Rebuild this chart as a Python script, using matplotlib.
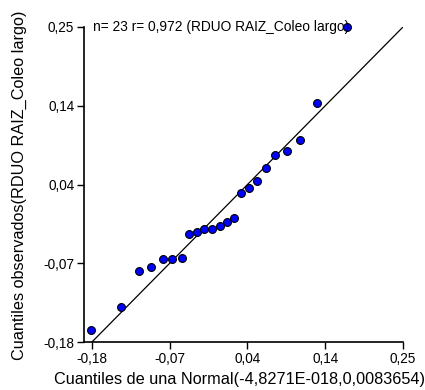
import matplotlib
matplotlib.use("Agg")
import matplotlib.pyplot as plt

plt.rcParams['font.family'] = ['Liberation Sans', 'DejaVu Sans']

# Normal quantiles (x) vs observed residual quantiles (y)
normal_q = [-0.182, -0.1395, -0.1154, -0.098, -0.0814, -0.069, -0.056,
            -0.0455, -0.0344, -0.0251, -0.014, -0.0034, 0.0063, 0.0168,
            0.0265, 0.0367, 0.0478, 0.0602, 0.0731, 0.0893, 0.1077,
            0.1316, 0.173]
observed_q = [-0.163, -0.1326, -0.0827, -0.0772, -0.0667, -0.0667, -0.0653,
              -0.0322, -0.0298, -0.0253, -0.0253, -0.0221, -0.0162, -0.0107,
              0.0238, 0.0306, 0.0398, 0.0575, 0.0757, 0.0811, 0.0953,
              0.1458, 0.2504]
tick_values = [-0.18, -0.0725, 0.035, 0.1425, 0.25]
tick_labels = ["-0,18", "-0,07", "0,04", "0,14", "0,25"]
ref_line = [-0.18, 0.25]
annotation = "n= 23 r= 0,972 (RDUO RAIZ_Coleo largo)"

fig = plt.figure(figsize=(4.25, 3.9), dpi=100)
ax = fig.add_axes([84 / 425, 48 / 390, 319 / 425, 315 / 390])

ax.plot(ref_line, ref_line, color='black', lw=0.9, zorder=2)
ax.scatter(normal_q, observed_q, s=32, c='#0000FF', edgecolors='black',
           linewidths=0.8, zorder=3, clip_on=False)

ax.set_xlim(-0.191, 0.25)
ax.set_ylim(-0.18, 0.25)
ax.set_xticks(tick_values)
ax.set_xticklabels(tick_labels)
ax.set_yticks(tick_values)
ax.set_yticklabels(tick_labels)
ax.tick_params(direction='out', length=5, width=1, labelsize=9.8, pad=2)

for side in ('top', 'right'):
    ax.spines[side].set_visible(False)
for side in ('left', 'bottom'):
    ax.spines[side].set_linewidth(1.2)

ax.text(-0.178, 0.25, annotation, fontsize=9.9, va='center', ha='left')

ax.set_xlabel("Cuantiles de una Normal(-4,8271E-018,0,0083654)", fontsize=11.7)
ax.set_ylabel("Cuantiles observados(RDUO RAIZ_Coleo largo)", fontsize=11.7)
ax.xaxis.set_label_coords(0.4875, -0.1206)
ax.xaxis.label.set_va('center')
ax.yaxis.set_label_coords(-0.2038, 0.498)
ax.yaxis.label.set_va('center')

fig.savefig("out.png", dpi=100)
